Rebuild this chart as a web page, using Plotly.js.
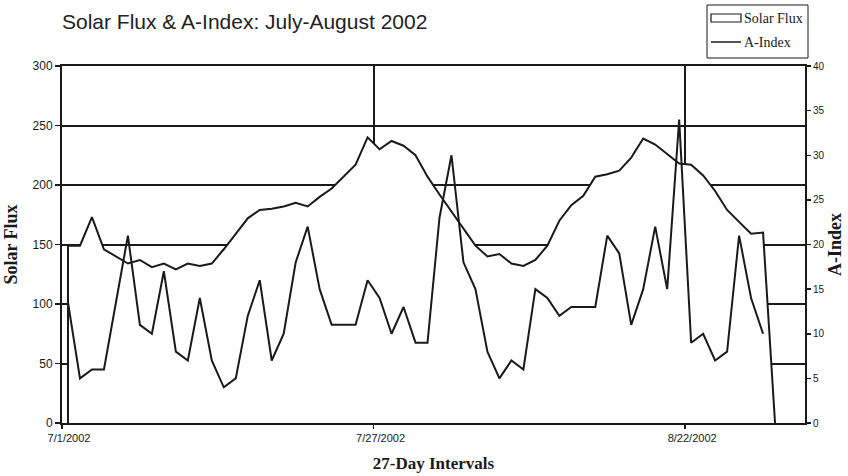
<!DOCTYPE html>
<html>
<head>
<meta charset="utf-8">
<script src="https://cdn.plot.ly/plotly-3.0.1.min.js"></script>
<style>html,body{margin:0;padding:0;background:#fff;}#chart{width:848px;height:476px;}</style>
</head>
<body>
<div id="chart"></div>
<script>
// Dates (one per day, July 1 – August 29, 2002)
const days = [
  '2002-07-01','2002-07-02','2002-07-03','2002-07-04','2002-07-05','2002-07-06','2002-07-07','2002-07-08','2002-07-09','2002-07-10',
  '2002-07-11','2002-07-12','2002-07-13','2002-07-14','2002-07-15','2002-07-16','2002-07-17','2002-07-18','2002-07-19','2002-07-20',
  '2002-07-21','2002-07-22','2002-07-23','2002-07-24','2002-07-25','2002-07-26','2002-07-27','2002-07-28','2002-07-29','2002-07-30',
  '2002-07-31','2002-08-01','2002-08-02','2002-08-03','2002-08-04','2002-08-05','2002-08-06','2002-08-07','2002-08-08','2002-08-09',
  '2002-08-10','2002-08-11','2002-08-12','2002-08-13','2002-08-14','2002-08-15','2002-08-16','2002-08-17','2002-08-18','2002-08-19',
  '2002-08-20','2002-08-21','2002-08-22','2002-08-23','2002-08-24','2002-08-25','2002-08-26','2002-08-27','2002-08-28','2002-08-29'
];
// Solar flux (left axis)
const solarFlux = [
  149,149,173,146,140,134,137,131,134,129,
  134,132,134,146,159,172,179,180,182,185,
  182,190,197,207,217,240,230,237,233,225,
  207,192,178,164,149,140,142,134,132,137,
  149,170,183,191,207,209,212,223,239,234,
  226,218,217,208,195,179,169,159,160,0
];
// A-Index (right axis)
const aIndex = [
  13.5,5,6,6,13.5,21,11,10,17,8,
  7,14,7,4,5,12,16,7,10,18,
  22,15,11,11,11,16,14,10,13,9,
  9,23,30,18,15,8,5,7,6,15,
  14,12,13,13,13,21,19,11,15,22,
  15,34,9,10,7,8,21,14,10
];
// Axis ticks
const xTickVals = ['2002-07-01','2002-07-27','2002-08-22'];
const xTickText = ['7/1/2002','7/27/2002','8/22/2002'];
const xRange = ['2002-07-01','2002-09-01'];
const legendNames = ['Solar Flux','A-Index'];

const ink = '#1a1a1a';
const DAY = 86400000;
const W = 848, H = 476;
const M = {l: 62, r: 43, t: 66, b: 53};
const PW = W - M.l - M.r, PH = H - M.t - M.b;
const px = x => (x - M.l) / PW;
const py = y => (H - M.b - y) / PH;

const fluxTrace = {
  name: legendNames[0], showlegend: false,
  x: [days[0]].concat(days),
  y: [0].concat(solarFlux),
  xperiod: DAY, xperiodalignment: 'middle',
  mode: 'lines', fill: 'toself', fillcolor: '#ffffff',
  line: {color: ink, width: 2},
  hoverinfo: 'skip'
};
const aTrace = {
  name: legendNames[1], showlegend: false,
  x: days.slice(0, aIndex.length),
  y: aIndex,
  xperiod: DAY, xperiodalignment: 'middle',
  yaxis: 'y2',
  mode: 'lines',
  line: {color: ink, width: 2},
  hoverinfo: 'skip'
};

const serif = 'Liberation Serif, Times New Roman, serif';
const tickFont = {family: 'Liberation Sans, Arial, sans-serif', color: ink};

// Legend box (drawn as shapes + text)
const shapes = [
  {type: 'rect', xref: 'paper', yref: 'paper', x0: px(707), x1: px(808), y0: py(5), y1: py(58),
   line: {color: ink, width: 1}, fillcolor: '#fff', layer: 'above'},
  {type: 'rect', xref: 'paper', yref: 'paper', x0: px(711), x1: px(741), y0: py(14), y1: py(22),
   line: {color: ink, width: 1.2}, fillcolor: '#fff', layer: 'above'},
  {type: 'line', xref: 'paper', yref: 'paper', x0: px(711), x1: px(741), y0: py(42), y1: py(42),
   line: {color: ink, width: 1.5}, layer: 'above'}
];
const annotations = [
  {xref: 'paper', yref: 'paper', x: px(742), y: py(18), xanchor: 'left', yanchor: 'middle',
   text: legendNames[0], showarrow: false, font: {family: serif, size: 14, color: ink}},
  {xref: 'paper', yref: 'paper', x: px(742), y: py(42), xanchor: 'left', yanchor: 'middle',
   text: legendNames[1], showarrow: false, font: {family: serif, size: 14, color: ink}}
];

const layout = {
  width: W, height: H,
  margin: M,
  paper_bgcolor: '#fff', plot_bgcolor: '#fff',
  showlegend: false,
  shapes: shapes,
  annotations: annotations,
  title: {
    text: 'Solar Flux & A-Index: July-August 2002',
    font: {family: 'Liberation Sans, Arial, sans-serif', size: 21, color: '#222'},
    xref: 'container', x: 62/848, xanchor: 'left',
    yref: 'container', y: 1 - 22/476, yanchor: 'middle'
  },
  xaxis: {
    type: 'date', range: xRange,
    tickmode: 'array', tickvals: xTickVals, ticktext: xTickText,
    ticklabelshift: 7,
    showgrid: true, gridcolor: ink, gridwidth: 2,
    showline: true, linecolor: ink, linewidth: 2, mirror: true,
    ticks: 'outside', ticklen: 4, tickcolor: ink, tickwidth: 1.5,
    tickfont: Object.assign({size: 11}, tickFont),
    zeroline: false,
    title: {text: '<b>27-Day Intervals</b>', standoff: 14,
            font: {family: serif, size: 17, color: ink}}
  },
  xaxis2: {
    type: 'date', range: xRange, overlaying: 'x', anchor: 'y',
    tickmode: 'array', tickvals: xTickVals.slice(1),
    showticklabels: false, showgrid: false, showline: false, zeroline: false,
    ticks: 'inside', ticklen: 4, tickcolor: ink, tickwidth: 1.5
  },
  yaxis: {
    range: [0, 300], tick0: 0, dtick: 50,
    showgrid: true, gridcolor: ink, gridwidth: 2,
    showline: true, linecolor: ink, linewidth: 2,
    ticks: 'outside', ticklen: 5, tickcolor: ink, tickwidth: 1.5,
    tickfont: Object.assign({size: 12}, tickFont),
    zeroline: false,
    title: {text: '<b>Solar Flux</b>', standoff: 10,
            font: {family: serif, size: 18, color: ink}}
  },
  yaxis2: {
    overlaying: 'y', side: 'right', anchor: 'x',
    range: [0, 40], tick0: 0, dtick: 5,
    showgrid: false, zeroline: false,
    showline: true, linecolor: ink, linewidth: 2,
    ticks: 'outside', ticklen: 4, tickcolor: ink, tickwidth: 1.5,
    tickfont: Object.assign({size: 10}, tickFont),
    title: {text: '<b>A-Index</b>', standoff: 4,
            font: {family: serif, size: 18, color: ink}}
  },
  yaxis3: {
    overlaying: 'y', side: 'right', anchor: 'x',
    range: [0, 40], tick0: 0, dtick: 5,
    showgrid: false, zeroline: false, showline: false, showticklabels: false,
    ticks: 'inside', ticklen: 4, tickcolor: ink, tickwidth: 1.5
  }
};

Plotly.newPlot('chart', [fluxTrace, aTrace], layout, {displayModeBar: false, staticPlot: true});
</script>
</body>
</html>
